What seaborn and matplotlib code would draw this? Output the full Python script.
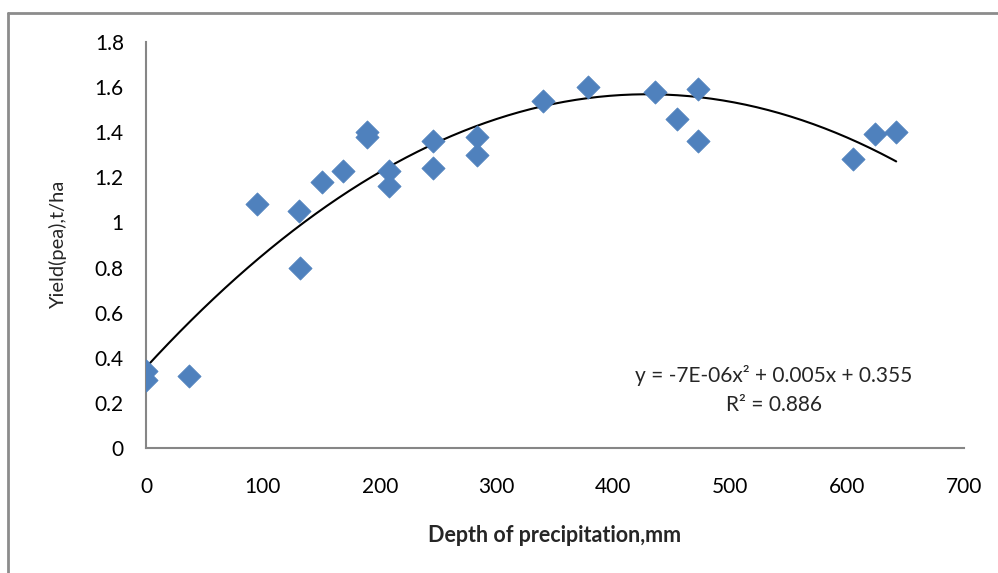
"""
Pea yield vs depth of precipitation, with quadratic trendline.
"""

###########
# IMPORTS #
###########
import numpy as np
import pandas as pd
import seaborn as sns
import matplotlib.pyplot as plt
from matplotlib.ticker import FuncFormatter
from matplotlib.lines import Line2D

########
# DATA #
########
precip_mm = [0, 0, 37, 95, 131, 132, 151, 169, 189, 189, 208, 208,
             246, 246, 283, 283, 340, 378, 436, 454, 472, 472, 605, 624, 642]
yield_t_ha = [0.34, 0.30, 0.32, 1.08, 1.05, 0.80, 1.18, 1.23, 1.40, 1.38, 1.23, 1.16,
              1.36, 1.24, 1.38, 1.30, 1.54, 1.60, 1.58, 1.46, 1.59, 1.36, 1.28, 1.39, 1.40]
x_ticks = [0, 100, 200, 300, 400, 500, 600, 700]
y_ticks = [0, 0.2, 0.4, 0.6, 0.8, 1.0, 1.2, 1.4, 1.6, 1.8]
equation_text = "y = -7E-06x² + 0.005x + 0.355"
r2_text = "R² = 0.886"

#########
# SETUP #
#########
sns.set_style("white")
plt.rcParams['font.family'] = ['Lato', 'DejaVu Sans']

df = pd.DataFrame({'precip': precip_mm, 'yield': yield_t_ha})

fig = plt.figure(figsize=(9.98, 5.73), dpi=100)
ax = fig.add_axes([0.1463, 0.2182, 0.8196, 0.7085])

# Outer chart border (only top/left visible in the reference)
border_color = '#8c8c8c'
fig.add_artist(Line2D([8 / 998, 8 / 998], [0, 1 - 13 / 573], transform=fig.transFigure,
                      color=border_color, linewidth=2))
fig.add_artist(Line2D([8 / 998, 1], [1 - 13 / 573, 1 - 13 / 573], transform=fig.transFigure,
                      color=border_color, linewidth=2))

# Quadratic trendline fitted to the points
coef = np.polyfit(df['precip'], df['yield'], 2)
xs = np.linspace(df['precip'].min(), df['precip'].max(), 200)
ax.plot(xs, np.polyval(coef, xs), color='black', linewidth=1.5, zorder=2)

# Scatter points
sns.scatterplot(data=df, x='precip', y='yield', marker='D', s=140,
                color='#4f81bd', edgecolor='#4f81bd', linewidth=0.5, ax=ax, zorder=3)

#########
# STYLE #
#########
ax.set_xlim(0, 700)
ax.set_ylim(0, 1.8)
ax.set_xticks(x_ticks)
ax.set_yticks(y_ticks)
ax.yaxis.set_major_formatter(FuncFormatter(lambda v, _: f"{v:g}"))

for side in ['top', 'right']:
    ax.spines[side].set_visible(False)
for side in ['left', 'bottom']:
    ax.spines[side].set_color('#868686')
    ax.spines[side].set_linewidth(1.5)

ax.tick_params(axis='both', which='major', direction='out', length=5, width=1.3,
               color='#868686', labelsize=15, labelcolor='black')
ax.tick_params(axis='x', pad=16)
ax.tick_params(axis='y', pad=11)

ax.set_xlabel('Depth of precipitation,mm', fontsize=15.5, fontweight='bold', labelpad=20)
ax.set_ylabel('Yield(pea),t/ha', fontsize=14.5, labelpad=20)

# Trendline equation
ax.text(537, 0.32, equation_text, ha='center', va='center', fontsize=15)
ax.text(537, 0.19, r2_text, ha='center', va='center', fontsize=15)

plt.savefig('out.png', dpi=100)
